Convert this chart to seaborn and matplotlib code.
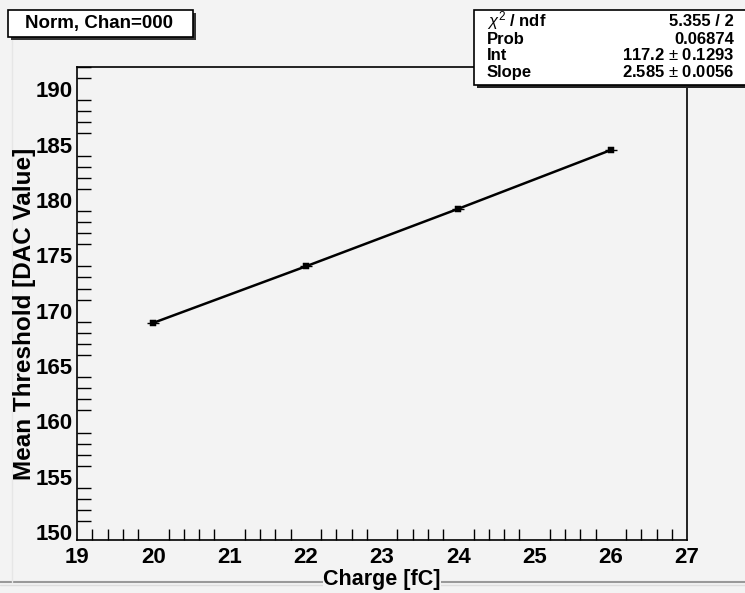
import matplotlib
matplotlib.use("Agg")
import matplotlib.pyplot as plt
import seaborn as sns
import pandas as pd
from matplotlib.ticker import MultipleLocator
from matplotlib.patches import Rectangle

charge = [20, 22, 24, 26]
threshold = [168.9, 174.0, 179.2, 184.5]
x_ticks = [19, 20, 21, 22, 23, 24, 25, 26, 27]
y_ticks = [150, 155, 160, 165, 170, 175, 180, 185, 190]
stat_names = ["$\\chi^2$ / ndf", "Prob", "Int", "Slope"]
stat_values = ["5.355 / 2", "0.06874", "117.2 $\\pm$ 0.1293", "2.585 $\\pm$ 0.0056"]
title_text = "Norm, Chan=000"

sns.set_theme(style="white")
plt.rcParams['font.family'] = ['Liberation Sans', 'DejaVu Sans']
plt.rcParams['mathtext.fontset'] = 'custom'
plt.rcParams['mathtext.rm'] = 'Liberation Sans'
plt.rcParams['mathtext.it'] = 'Liberation Sans:italic'
plt.rcParams['text.color'] = 'black'
plt.rcParams['axes.labelcolor'] = 'black'
plt.rcParams['xtick.color'] = 'black'
plt.rcParams['ytick.color'] = 'black'
plt.rcParams['xtick.labelcolor'] = 'black'
plt.rcParams['ytick.labelcolor'] = 'black'

bg = "#f3f3f3"
fig = plt.figure(figsize=(7.45, 5.93), dpi=100, facecolor=bg)
ax = fig.add_axes([77/745, 1-540/593, 610/745, 473/593])
ax.set_facecolor(bg)

df = pd.DataFrame({"charge": charge, "threshold": threshold})
sns.lineplot(data=df, x="charge", y="threshold", ax=ax, color="black", linewidth=1.8)
sns.scatterplot(data=df, x="charge", y="threshold", ax=ax, color="black", marker="s", s=18, edgecolor="black")
ax.errorbar(charge, threshold, xerr=0.08, fmt="none", ecolor="black", elinewidth=1)

ax.set_xlim(19, 27)
ax.set_ylim(149.3, 192.0)
ax.set_xticks(x_ticks)
ax.set_yticks(y_ticks)
ax.xaxis.set_minor_locator(MultipleLocator(0.2))
ax.yaxis.set_minor_locator(MultipleLocator(1))
ax.tick_params(axis="x", which="major", direction="in", length=15, width=1.2, color="black",
               labelcolor="black", labelsize=16, pad=5, top=False)
ax.tick_params(axis="x", which="minor", direction="in", length=8, width=1, color="black", top=False, bottom=True)
ax.tick_params(axis="y", which="major", direction="in", length=18, width=1.2, color="black",
               labelcolor="black", labelsize=16, pad=3, right=False)
ax.tick_params(axis="y", which="minor", direction="in", length=10, width=1, color="black", left=True, right=False)
for lbl in ax.get_xticklabels() + ax.get_yticklabels():
    lbl.set_fontweight("bold")
for s in ax.spines.values():
    s.set_color("black")
    s.set_linewidth(1.2)

ax.set_xlabel("Charge [fC]", fontsize=15.5, fontweight="bold", labelpad=0, color="black")
ax.xaxis.set_label_coords(0.5, -0.062)
ax.xaxis.label.set_bbox(dict(facecolor=bg, edgecolor="none", pad=0.5))
ax.set_ylabel("Mean Threshold [DAC Value]", fontsize=17.5, fontweight="bold", labelpad=2, color="black")
ax.yaxis.set_label_coords(-0.068, 0.478)

# window frame lines (behind everything else)
fig.add_artist(plt.Line2D([0, 1], [1-582/593, 1-582/593], transform=fig.transFigure, color="#999999", lw=1.5, zorder=-2))
fig.add_artist(plt.Line2D([0, 1], [1-585/593, 1-585/593], transform=fig.transFigure, color="#dddddd", lw=1, zorder=-2))
fig.add_artist(plt.Line2D([12/745, 12/745], [1-582/593, 1-35/593], transform=fig.transFigure, color="#e6e6e6", lw=1, zorder=-2))

# title box with shadow
fig.patches.append(Rectangle((11/745, 1-40/593), 185/745, 27/593, transform=fig.transFigure,
                             facecolor="#333333", edgecolor="none", zorder=5))
fig.patches.append(Rectangle((8/745, 1-37/593), 185/745, 27/593, transform=fig.transFigure,
                             facecolor="white", edgecolor="black", linewidth=1.2, zorder=6))
fig.text(99/745, 1-23.5/593, title_text, ha="center", va="center", fontsize=13.5,
         fontweight="bold", zorder=7, color="black")

# stats box with shadow
fig.patches.append(Rectangle((477/745, 1-88/593), 270/745, 76/593, transform=fig.transFigure,
                             facecolor="#222222", edgecolor="none", zorder=5))
fig.patches.append(Rectangle((474/745, 1-85/593), 272/745, 75/593, transform=fig.transFigure,
                             facecolor="white", edgecolor="black", linewidth=1.2, zorder=6))
row_y = [21, 39, 55, 72]
for name, val, yy in zip(stat_names, stat_values, row_y):
    fig.text(487/745, 1-yy/593, name, ha="left", va="center", fontsize=12, fontweight="bold", zorder=7, color="black")
    fig.text(734/745, 1-yy/593, val, ha="right", va="center", fontsize=12, fontweight="bold", zorder=7, color="black")

fig.savefig("out.png", dpi=100, facecolor=bg)
